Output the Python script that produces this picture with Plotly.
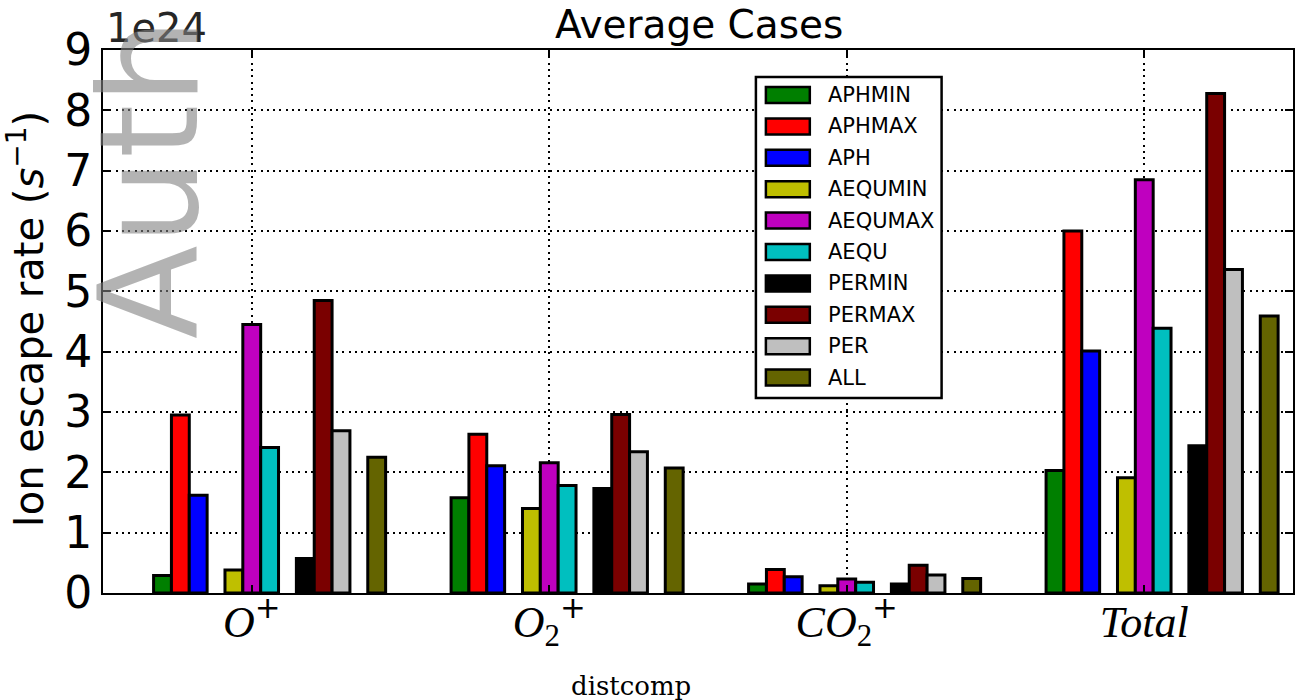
import plotly.graph_objects as go

# Ion escape rates per ion species, one list per simulation case (units: s^-1)
PLUS = "<sup><span style='font-family:DejaVu Sans'>+</span></sup>"
CATEGORIES = ["<i>O</i>" + PLUS, "<i>O</i><sub>2</sub>" + PLUS,
              "<i>CO</i><sub>2</sub>" + PLUS, "<i>Total</i>"]
SERIES = ["APHMIN", "APHMAX", "APH", "AEQUMIN", "AEQUMAX",
          "AEQU", "PERMIN", "PERMAX", "PER", "ALL"]
APHMIN = [0.29e24, 1.58e24, 0.15e24, 2.03e24]
APHMAX = [2.95e24, 2.63e24, 0.39e24, 6.00e24]
APH = [1.62e24, 2.11e24, 0.27e24, 4.01e24]
AEQUMIN = [0.38e24, 1.40e24, 0.12e24, 1.91e24]
AEQUMAX = [4.45e24, 2.16e24, 0.23e24, 6.85e24]
AEQU = [2.41e24, 1.78e24, 0.18e24, 4.39e24]
PERMIN = [0.57e24, 1.73e24, 0.15e24, 2.44e24]
PERMAX = [4.85e24, 2.96e24, 0.46e24, 8.28e24]
PER = [2.69e24, 2.34e24, 0.30e24, 5.36e24]
ALL = [2.25e24, 2.07e24, 0.24e24, 4.59e24]
Y_TICKS = [0, 1, 2, 3, 4, 5, 6, 7, 8, 9]

VALUES = [APHMIN, APHMAX, APH, AEQUMIN, AEQUMAX, AEQU, PERMIN, PERMAX, PER, ALL]
COLORS = ["#007f00", "#ff0000", "#0000ff", "#bfbf00", "#bf00bf",
          "#00bfbf", "#000000", "#7a0000", "#bfbfbf", "#646400"]
EXPONENT = 24
SCALE = 10.0 ** EXPONENT

# bar layout: three-case blocks separated by one empty slot
BAR_W = 0.06
SLOTS = [0, 1, 2, 4, 5, 6, 8, 9, 10, 12]
CENTER_SLOT = 5

W, H = 1305, 700
ML, MR, MT, MB = 103, 10, 50, 107
PW, PH = W - ML - MR, H - MT - MB


def px_x(px):
    return (px - ML) / PW


def px_y(py):
    return (H - MB - py) / PH


fig = go.Figure()
x_pos = list(range(len(CATEGORIES)))
for name, vals, color, slot in zip(SERIES, VALUES, COLORS, SLOTS):
    fig.add_trace(go.Bar(
        x=x_pos,
        y=[v / SCALE for v in vals],
        width=BAR_W,
        offset=(slot - CENTER_SLOT - 0.5) * BAR_W,
        name=name,
        marker=dict(color=color, line=dict(color="black", width=3)),
        showlegend=False,
    ))

axis_common = dict(
    showline=True, linecolor="black", linewidth=2, mirror="ticks",
    ticks="inside", ticklen=8, tickwidth=1.5, tickcolor="black",
    showgrid=True, gridcolor="black", gridwidth=1.6, griddash="2px,4.3px",
    zeroline=False, layer="above traces",
)

fig.update_layout(
    width=W, height=H,
    margin=dict(l=ML, r=MR, t=MT, b=MB),
    paper_bgcolor="white", plot_bgcolor="white",
    barmode="overlay",
    xaxis=dict(range=[-0.5, len(CATEGORIES) - 0.5], tickvals=x_pos,
               ticktext=CATEGORIES, ticklabelstandoff=-11,
               tickfont=dict(family="Liberation Serif", size=44, color="black"),
               **axis_common),
    yaxis=dict(range=[Y_TICKS[0], Y_TICKS[-1]], tickvals=Y_TICKS,
               ticktext=[str(t) for t in Y_TICKS],
               tickfont=dict(family="DejaVu Sans", size=44, color="black"),
               **axis_common),
)

annotations = [
    dict(text="Average Cases", x=px_x(700), y=px_y(24.5),
         font=dict(family="DejaVu Sans", size=39, color="black")),
    dict(text="1e%d" % EXPONENT, x=px_x(104), y=px_y(28), xanchor="left",
         font=dict(family="DejaVu Sans", size=40, color="#262626")),
    dict(text="Ion escape rate (<i>s</i><sup>\u22121</sup>)", x=px_x(26),
         y=px_y(319), textangle=-90,
         font=dict(family="DejaVu Sans", size=40, color="black")),
    dict(text="distcomp", x=px_x(632), y=px_y(686),
         font=dict(family="DejaVu Serif", size=26, color="black")),
]

# legend box drawn as shapes and labels
LEG_X0, LEG_X1, LEG_Y0, LEG_Y1 = 757, 943, 77, 398
LEG_ROW0, LEG_STEP = 95, 31.4
shapes = [dict(type="rect", xref="paper", yref="paper",
               x0=px_x(LEG_X0), x1=px_x(LEG_X1), y0=px_y(LEG_Y1), y1=px_y(LEG_Y0),
               line=dict(color="black", width=2.5), fillcolor="white", layer="above")]
for i, (name, color) in enumerate(zip(SERIES, COLORS)):
    yc = LEG_ROW0 + i * LEG_STEP
    shapes.append(dict(type="rect", xref="paper", yref="paper",
                       x0=px_x(767), x1=px_x(811), y0=px_y(yc + 8), y1=px_y(yc - 8),
                       line=dict(color="black", width=2.5), fillcolor=color,
                       layer="above"))
    annotations.append(dict(text=name, x=px_x(827), y=px_y(yc), xanchor="left",
                            font=dict(family="DejaVu Sans", size=21, color="black")))

# watermark running up the left edge
annotations.append(dict(text="Auth", x=px_x(150), y=px_y(178), textangle=-90,
                        font=dict(family="DejaVu Sans", size=137,
                                  color="rgba(128,128,128,0.6)")))

for a in annotations:
    a.setdefault("xref", "paper")
    a.setdefault("yref", "paper")
    a.setdefault("xanchor", "center")
    a.setdefault("yanchor", "middle")
    a.setdefault("showarrow", False)
fig.update_layout(annotations=annotations, shapes=shapes)

fig.write_html("out.html")
